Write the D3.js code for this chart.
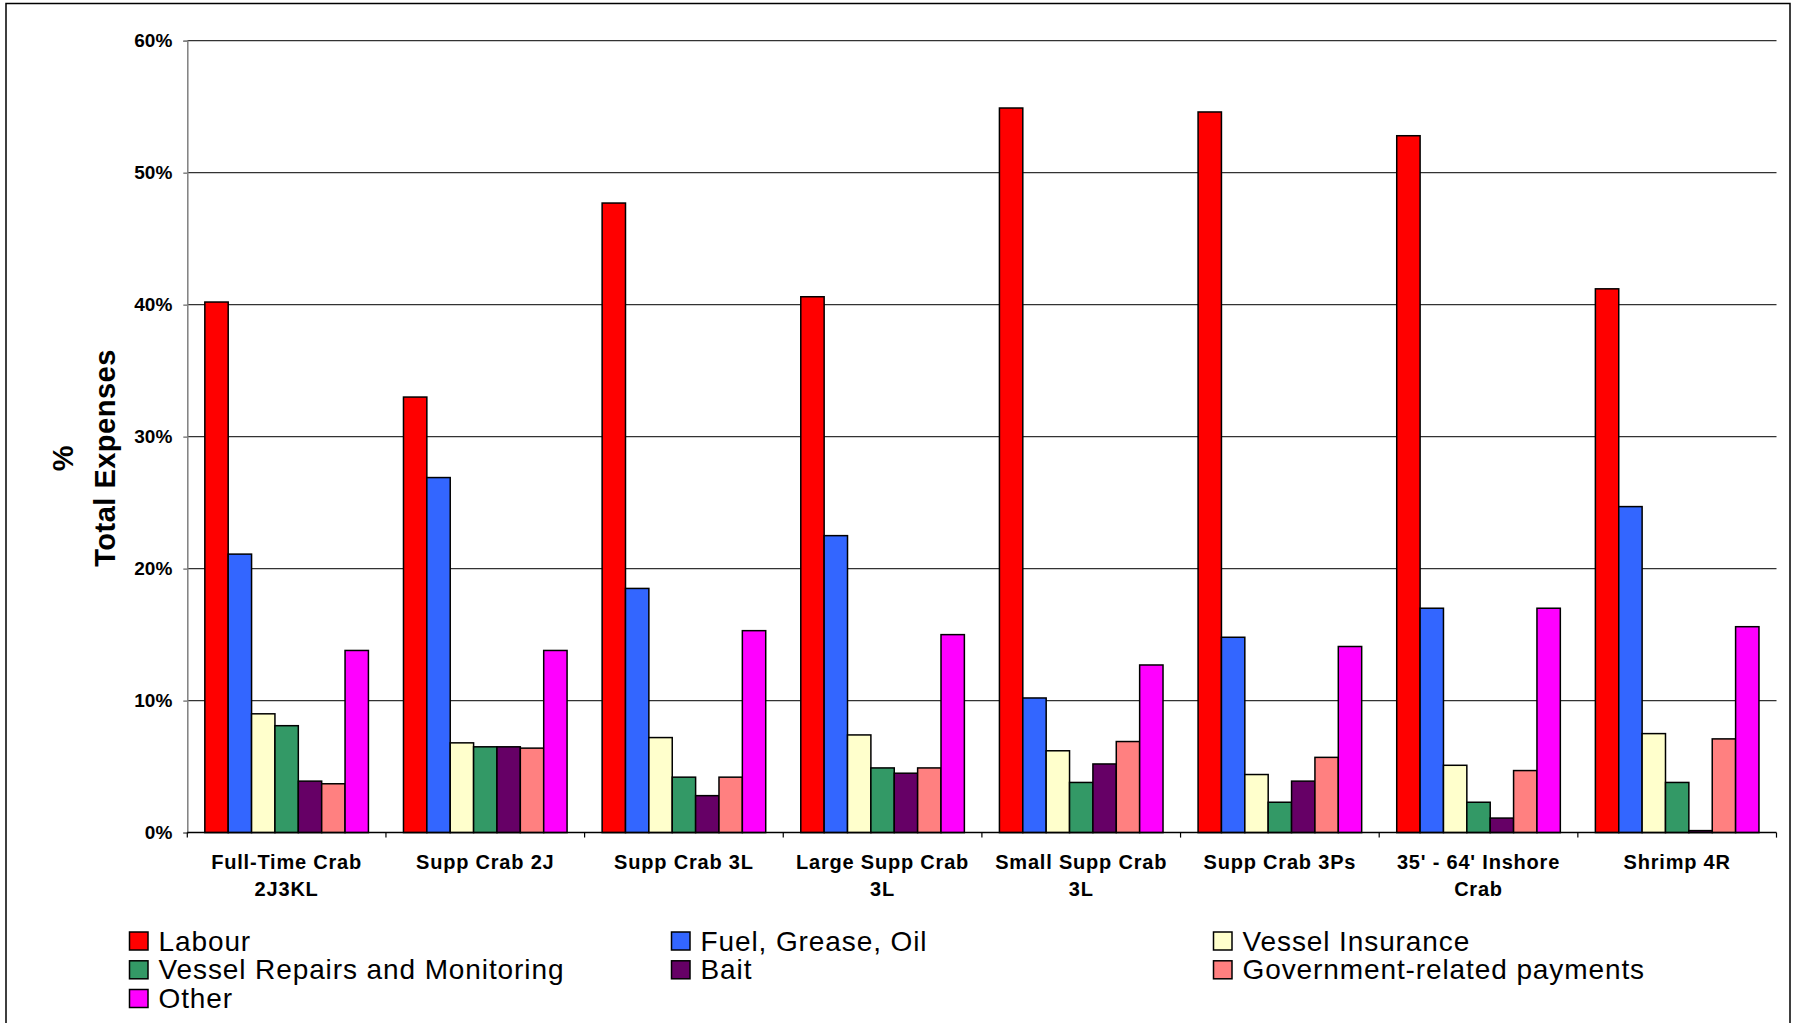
<!DOCTYPE html>
<html>
<head>
<meta charset="utf-8">
<script src="https://cdn.jsdelivr.net/npm/d3@7"></script>
<style>
  html, body { margin: 0; padding: 0; background: #fff; }
  svg { display: block; }
  text { font-family: "Liberation Sans", Arial, sans-serif; }
</style>
</head>
<body>
<svg id="chart" width="1797" height="1023"></svg>
<script>
// ---- data ----
const categories = [
  ["Full-Time Crab", "2J3KL"],
  ["Supp Crab 2J"],
  ["Supp Crab 3L"],
  ["Large Supp Crab", "3L"],
  ["Small Supp Crab", "3L"],
  ["Supp Crab 3Ps"],
  ["35' - 64' Inshore", "Crab"],
  ["Shrimp 4R"]
];
const seriesNames = ["Labour", "Fuel, Grease, Oil", "Vessel Insurance", "Vessel Repairs and Monitoring", "Bait", "Government-related payments", "Other"];
const seriesColors = ["#FF0000", "#3366FF", "#FFFFCC", "#339966", "#660066", "#FF8080", "#FF00FF"];

const labour      = [40.2, 33.0, 47.7, 40.6, 54.9, 54.6, 52.8, 41.2];
const fuel        = [21.1, 26.9, 18.5, 22.5, 10.2, 14.8, 17.0, 24.7];
const insurance   = [9.0, 6.8, 7.2, 7.4, 6.2, 4.4, 5.1, 7.5];
const repairs     = [8.1, 6.5, 4.2, 4.9, 3.8, 2.3, 2.3, 3.8];
const bait        = [3.9, 6.5, 2.8, 4.5, 5.2, 3.9, 1.1, 0.15];
const government  = [3.7, 6.4, 4.2, 4.9, 6.9, 5.7, 4.7, 7.1];
const other       = [13.8, 13.8, 15.3, 15.0, 12.7, 14.1, 17.0, 15.6];
const yTicks = [0, 10, 20, 30, 40, 50, 60];

const seriesValues = [labour, fuel, insurance, repairs, bait, government, other];

// ---- layout ----
const svg = d3.select("#chart");
const plotLeft = 187.3, plotRight = 1776.5, plotTop = 40.7, plotBottom = 832.6;

// outer frame
svg.append("rect")
  .attr("x", 6).attr("y", 3.5).attr("width", 1784).attr("height", 1040)
  .attr("fill", "none").attr("stroke", "#000").attr("stroke-width", 1.5);

const catKeys = categories.map((c, i) => i);
const x0 = d3.scaleBand().domain(catKeys).range([plotLeft, plotRight])
  .paddingInner(1.5 / 8.5).paddingOuter(0.75 / 8.5);
const step = x0.step();
const x1 = d3.scaleBand().domain(d3.range(seriesNames.length)).range([0, x0.bandwidth()]);
const y = d3.scaleLinear().domain([0, 60]).range([plotBottom, plotTop]);

// gridlines
const grid = svg.append("g");
grid.selectAll("line").data(yTicks.filter(t => t > 0)).join("line")
  .attr("x1", plotLeft).attr("x2", plotRight)
  .attr("y1", d => y(d)).attr("y2", d => y(d))
  .attr("stroke", "#333").attr("stroke-width", 1.2);

// y axis
const yAxis = svg.append("g").attr("transform", `translate(${plotLeft},0)`)
  .call(d3.axisLeft(y).tickValues(yTicks).tickSize(4).tickPadding(11).tickFormat(d => d + "%"));
yAxis.select(".domain").attr("stroke", "#808080").attr("stroke-width", 1.5);
yAxis.selectAll(".tick line").attr("stroke", "#808080").attr("stroke-width", 1.5);
yAxis.selectAll(".tick text")
  .attr("font-family", "'Liberation Sans', Arial, sans-serif")
  .attr("font-size", 19).attr("font-weight", "bold").attr("fill", "#000");

// bars
const groups = svg.append("g").selectAll("g").data(catKeys).join("g")
  .attr("transform", d => `translate(${x0(d)},0)`);
groups.selectAll("rect")
  .data(ci => seriesValues.map((vals, si) => ({ si, v: vals[ci] })))
  .join("rect")
  .attr("x", d => x1(d.si))
  .attr("width", x1.bandwidth())
  .attr("y", d => y(d.v))
  .attr("height", d => y(0) - y(d.v))
  .attr("fill", d => seriesColors[d.si])
  .attr("stroke", "#000").attr("stroke-width", 1.5);

// x axis
const xAxisG = svg.append("g");
xAxisG.append("line")
  .attr("x1", plotLeft).attr("x2", plotRight)
  .attr("y1", y(0)).attr("y2", y(0))
  .attr("stroke", "#000").attr("stroke-width", 1.5);
const tickXs = catKeys.map(i => x0(i) - x0.paddingInner() * step / 2).concat([plotRight]);
xAxisG.selectAll("line.tick").data(tickXs).join("line").attr("class", "tick")
  .attr("x1", d => d).attr("x2", d => d)
  .attr("y1", y(0)).attr("y2", y(0) + 5)
  .attr("stroke", "#000").attr("stroke-width", 1.2);

const labels = svg.append("g").selectAll("text").data(catKeys).join("text")
  .attr("x", d => x0(d) + x0.bandwidth() / 2)
  .attr("y", 869)
  .attr("text-anchor", "middle")
  .attr("font-size", 20).attr("font-weight", "bold")
  .attr("letter-spacing", "0.8px");
labels.selectAll("tspan").data(d => categories[d].map((line, li) => ({ line, li, d }))).join("tspan")
  .attr("x", t => x0(t.d) + x0.bandwidth() / 2)
  .attr("dy", t => t.li === 0 ? 0 : 27)
  .text(t => t.line);

// y title
const yTitle = svg.append("text")
  .attr("transform", "translate(0,458) rotate(-90)")
  .attr("text-anchor", "middle")
  .attr("font-size", 29).attr("font-weight", "bold").attr("letter-spacing", "0.5px");
yTitle.append("tspan").attr("x", 0).attr("y", 73).text("%");
yTitle.append("tspan").attr("x", 0).attr("y", 115).text("Total Expenses");

// legend
const legendCols = [129.5, 671.5, 1213.5];
const legendBaselines = [950.5, 979.3, 1008];
const legend = svg.append("g").selectAll("g").data(seriesNames.map((n, i) => i)).join("g")
  .attr("transform", i => `translate(${legendCols[i % 3]},${legendBaselines[Math.floor(i / 3)]})`);
legend.append("rect")
  .attr("x", 0).attr("y", -18.5).attr("width", 18.5).attr("height", 18)
  .attr("fill", i => seriesColors[i]).attr("stroke", "#000").attr("stroke-width", 1.5);
legend.append("text")
  .attr("x", 29).attr("y", 0)
  .attr("font-size", 28).attr("letter-spacing", "0.9px")
  .text(i => seriesNames[i]);
</script>
</body>
</html>
